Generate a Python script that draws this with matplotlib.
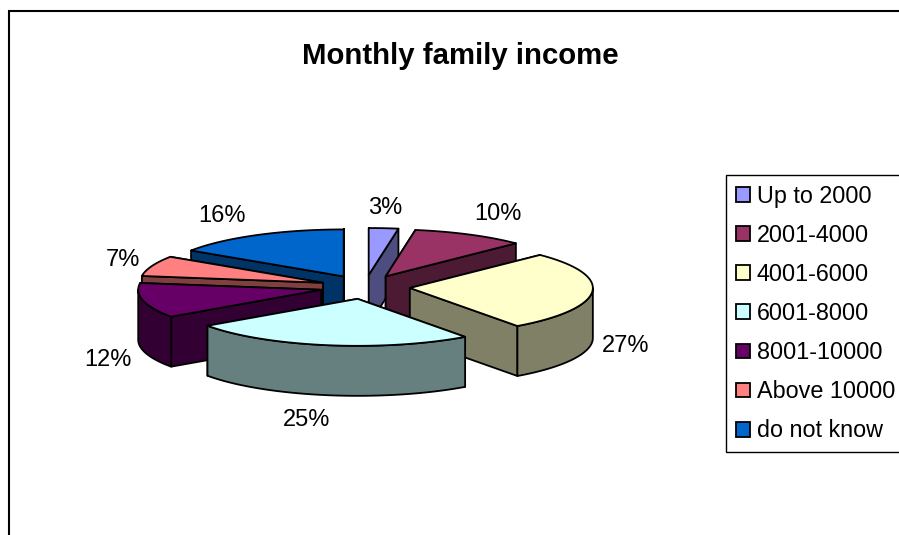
# -*- coding: utf-8 -*-
"""
Monthly family income, exploded 3D style pie.
"""

import numpy as np
import matplotlib
matplotlib.use('Agg')
import matplotlib.pyplot as plt
from matplotlib.patches import Polygon, Patch

plt.rcParams['font.family'] = ['Liberation Sans', 'DejaVu Sans']

categories = ['Up to 2000', '2001-4000', '4001-6000', '6001-8000',
              '8001-10000', 'Above 10000', 'do not know']
# percent shares (labels round them)
shares = [2.6, 10.0, 27.4, 25.3, 12.0, 7.0, 15.7]
top_colors = ['#9999FF', '#993366', '#FFFFCC', '#CCFFFF',
              '#660066', '#FF8080', '#0066CC']
side_colors = ['#4D4D80', '#4D1A33', '#808066', '#668080',
               '#330033', '#804040', '#003366']

# pie geometry in pixels
cx, cy = 365, 287
rx, ry = 183, 47
ex, ey = 45, 12
depth = 50
edge_w = 1.3

# back to front
draw_order = [6, 0, 1, 5, 4, 2, 3]
label_pos = [(385, 208), (498, 214), (626, 346), (307, 420),
             (108, 360), (123, 260), (222, 216)]

fig = plt.figure(figsize=(8.99, 5.35), dpi=100)
ax = fig.add_axes([0, 0, 1, 1])
ax.set_xlim(0, 899)
ax.set_ylim(535, 0)
ax.axis('off')

# chart area border (runs off the right and bottom of the picture)
ax.plot([9, 9, 899], [535, 11, 11], color='black', lw=1.5, solid_joinstyle='miter')

ax.text(460, 56, 'Monthly family income', fontsize=21.2, fontweight='bold',
        ha='center', va='center')

edges = np.concatenate([[0], np.cumsum(shares)]) / np.sum(shares) * 2 * np.pi


def rim(x0, y0, angles):
    return np.column_stack([x0 + rx * np.sin(angles), y0 - ry * np.cos(angles)])


def add_poly(pts, color):
    ax.add_patch(Polygon(pts, closed=True, facecolor=color, edgecolor='black',
                         lw=edge_w, joinstyle='round'))


for i in draw_order:
    t0, t1 = edges[i], edges[i + 1]
    mid = (t0 + t1) / 2
    x0 = cx + ex * np.sin(mid)
    y0 = cy - ey * np.cos(mid)
    apex = np.array([x0, y0])
    down = np.array([0, depth])

    # the two cut faces, the one further back first
    faces = sorted([t0, t1], key=lambda t: -np.cos(t))
    for t in faces:
        p = rim(x0, y0, np.array([t]))[0]
        add_poly([apex, p, p + down, apex + down], side_colors[i])

    # outer wall, only the part that faces the viewer
    a0, a1 = max(t0, np.pi / 2), min(t1, 3 * np.pi / 2)
    if a1 > a0:
        arc = rim(x0, y0, np.linspace(a0, a1, 60))
        add_poly(np.vstack([arc, arc[::-1] + down]), side_colors[i])

    arc = rim(x0, y0, np.linspace(t0, t1, 80))
    add_poly(np.vstack([apex, arc]), top_colors[i])

for v, (lx, ly) in zip(shares, label_pos):
    ax.text(lx, ly, '%d%%' % round(v), fontsize=17, ha='center', va='center')

handles = [Patch(facecolor=c, edgecolor='black', lw=1.3) for c in top_colors]
leg = ax.legend(handles, categories, loc='upper left',
                bbox_to_anchor=(726, 175), bbox_transform=ax.transData,
                fontsize=16.8, frameon=True, fancybox=False, framealpha=1,
                edgecolor='black', borderaxespad=0, borderpad=0.42,
                handlelength=0.6, handleheight=0.6, handletextpad=0.3,
                labelspacing=0.69)
leg.get_frame().set_linewidth(1.0)

plt.savefig('out.png', dpi=100)
